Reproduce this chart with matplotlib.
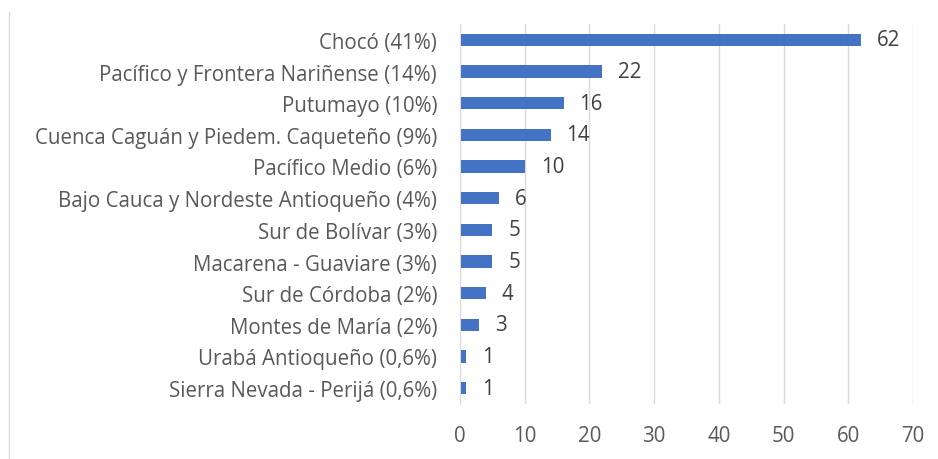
import matplotlib
matplotlib.use("Agg")
import matplotlib.pyplot as plt
from matplotlib.lines import Line2D

# data (top to bottom as shown)
categories = [
    "Chocó (41%)",
    "Pacífico y Frontera Nariñense (14%)",
    "Putumayo (10%)",
    "Cuenca Caguán y Piedem. Caqueteño (9%)",
    "Pacífico Medio (6%)",
    "Bajo Cauca y Nordeste Antioqueño (4%)",
    "Sur de Bolívar (3%)",
    "Macarena - Guaviare (3%)",
    "Sur de Córdoba (2%)",
    "Montes de María (2%)",
    "Urabá Antioqueño (0,6%)",
    "Sierra Nevada - Perijá (0,6%)",
]
values = [62, 22, 16, 14, 10, 6, 5, 5, 4, 3, 1, 1]
xticks = [0, 10, 20, 30, 40, 50, 60, 70]

plt.rcParams["font.family"] = ["Open Sans", "DejaVu Sans"]
FS = 14.8

fig = plt.figure(figsize=(9.38, 4.6), dpi=100)
ax = fig.add_axes([460 / 938, 1 - 405 / 460, (913 - 460) / 938, (405 - 25) / 460])

ypos = list(range(len(categories)))[::-1]
ax.barh(ypos, values, height=0.38, color="#4472C4", zorder=3)

for y, v in zip(ypos, values):
    ax.annotate(str(v), xy=(v, y), xytext=(11.5, 0), textcoords="offset points",
                va="center", ha="left", fontsize=FS, color="#404040")

ax.set_xlim(0, 70)
ax.set_ylim(-0.5, len(categories) - 0.5)
ax.set_xticks(xticks)
ax.set_yticks(ypos)
ax.set_yticklabels(categories)
ax.tick_params(axis="y", length=0, pad=16.5, labelsize=FS, labelcolor="#595959")
ax.tick_params(axis="x", length=0, pad=15, labelsize=FS, labelcolor="#595959")
ax.grid(axis="x", color="#D9D9D9", linewidth=1, zorder=0)
for s in ["top", "right", "bottom"]:
    ax.spines[s].set_visible(False)
ax.spines["left"].set_color("#D9D9D9")
ax.spines["left"].set_zorder(4)

# chart border fragment on the left
fig.add_artist(Line2D([8.5 / 938, 8.5 / 938], [0, 1 - 13 / 460], transform=fig.transFigure,
                      color="#D9D9D9", linewidth=1))

fig.savefig("out.png", dpi=100)
